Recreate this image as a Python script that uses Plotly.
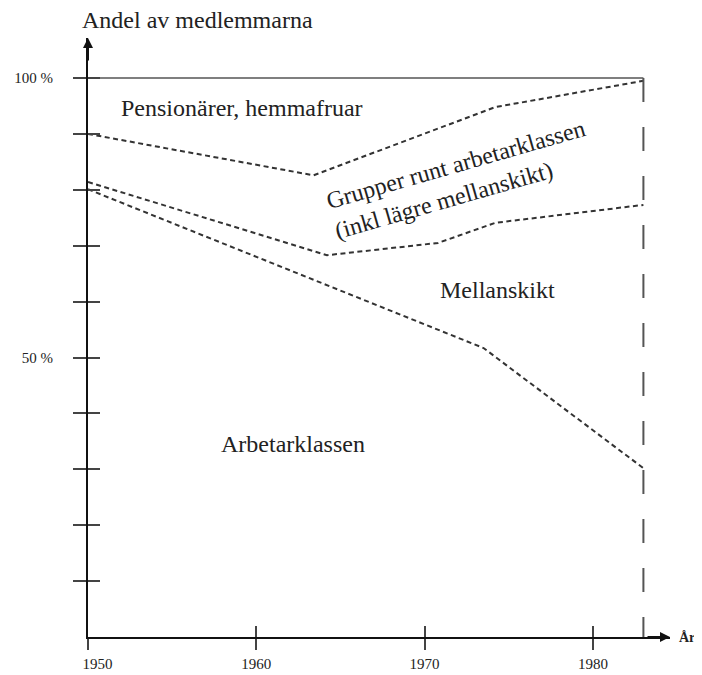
import plotly.graph_objects as go

# ---- data ----
years_pension = [1950, 1963.4, 1974.2, 1983]
share_pension = [90.0, 82.6, 94.8, 99.5]      # lower edge of "Pensionärer, hemmafruar"

years_grupper = [1950, 1964.2, 1970.8, 1974.2, 1983]
share_grupper = [81.4, 68.3, 70.5, 74.1, 77.3]  # lower edge of "Grupper runt arbetarklassen"

years_arbetar = [1950, 1973.5, 1983]
share_arbetar = [80.1, 51.7, 30.2]             # upper edge of "Arbetarklassen"

years_total = [1950, 1983]
share_total = [100, 100]

end_year = 1983
y_tick_vals = [10, 20, 30, 40, 50, 60, 70, 80, 90, 100]
y_tick_text = ["", "", "", "", "50 %", "", "", "", "", "100 %"]
x_tick_vals = [1950, 1960, 1970, 1980]
x_tick_text = ["1950", "1960", "1970", "1980"]

X_MAX = 1984.58
Y_MAX = 107.16
SERIF = "Liberation Serif, Times New Roman, serif"
DASH = "5px,3.5px"
LINE_COL = "#333333"

# the page body has an 8px default margin: compensate in the figure size/margins
PAGE_OFF = 8
PLOT_W, PLOT_H = 582, 599
ML, MT = 88 - PAGE_OFF, 38 - PAGE_OFF
FIG_W, FIG_H = 702 - 2 * PAGE_OFF, 675 - PAGE_OFF
MR = FIG_W - ML - PLOT_W
MB = FIG_H - MT - PLOT_H

# first x label sits a little right of the y axis in the reference
x_tick_labels = ["\u00a0" * 5 + x_tick_text[0]] + x_tick_text[1:]

fig = go.Figure()

for xs, ys in [(years_pension, share_pension),
               (years_grupper, share_grupper),
               (years_arbetar, share_arbetar)]:
    fig.add_trace(go.Scatter(x=xs, y=ys, mode="lines",
                             line=dict(color=LINE_COL, width=2, dash=DASH),
                             hoverinfo="skip", showlegend=False))

# vertical long-dashed line at the end year (drawn top to bottom)
fig.add_trace(go.Scatter(x=[end_year, end_year], y=[share_total[-1], 0], mode="lines",
                         line=dict(color="#555555", width=2, dash="24px,25px"),
                         hoverinfo="skip", showlegend=False))

# 100 % line (on overlay axes carrying the inside ticks)
fig.add_trace(go.Scatter(x=years_total, y=share_total, mode="lines",
                         line=dict(color="#555555", width=1.6),
                         xaxis="x2", yaxis="y2",
                         hoverinfo="skip", showlegend=False))

tick_font = dict(family=SERIF, size=15, color="#222222")
label_font = dict(family=SERIF, size=24, color="#222222")

fig.update_layout(
    width=FIG_W, height=FIG_H,
    margin=dict(l=ML, r=MR, t=MT, b=MB, pad=0),
    paper_bgcolor="white", plot_bgcolor="white",
    showlegend=False,
    xaxis=dict(range=[1950, X_MAX], showgrid=False, zeroline=False, automargin=False,
               showline=True, linecolor="#111111", linewidth=2,
               tickvals=x_tick_vals, ticktext=x_tick_labels,
               ticks="outside", ticklen=11, tickwidth=1.5, tickcolor="#444444",
               tickfont=tick_font, ticklabelstandoff=1),
    yaxis=dict(range=[0, Y_MAX], showgrid=False, zeroline=False, automargin=False,
               showline=True, linecolor="#111111", linewidth=2,
               tickvals=y_tick_vals, ticktext=y_tick_text,
               ticks="outside", ticklen=13, tickwidth=1.5, tickcolor="#444444",
               tickfont=tick_font, ticklabelstandoff=17),
    xaxis2=dict(overlaying="x", matches="x", showgrid=False, zeroline=False,
                automargin=False,
                showline=False, tickvals=x_tick_vals[1:], ticks="inside",
                ticklen=11, tickwidth=1.5, tickcolor="#444444",
                showticklabels=False),
    yaxis2=dict(overlaying="y", matches="y", showgrid=False, zeroline=False,
                automargin=False,
                showline=False, tickvals=y_tick_vals, ticks="inside",
                ticklen=12, tickwidth=1.5, tickcolor="#444444",
                showticklabels=False),
)

annotations = [
    # axis arrows
    dict(x=X_MAX, y=0, xref="x", yref="y", ax=-24, ay=0, text="", showarrow=True,
         arrowhead=2, arrowsize=1, arrowwidth=2, arrowcolor="#111111"),
    dict(x=1950, y=Y_MAX, xref="x", yref="y", ax=0, ay=24, text="", showarrow=True,
         arrowhead=2, arrowsize=1, arrowwidth=2, arrowcolor="#111111"),
    # axis titles
    dict(x=-8 / PLOT_W, y=(637 - 20) / PLOT_H, xref="paper", yref="paper",
         xanchor="left", yanchor="middle", showarrow=False,
         text="Andel av medlemmarna", font=dict(family=SERIF, size=24, color="#222222")),
    dict(x=(678 - 88) / PLOT_W, y=0, xref="paper", yref="paper",
         xanchor="left", yanchor="middle", showarrow=False, borderpad=0,
         text="<b>År</b>", font=dict(family=SERIF, size=14, color="#222222")),
    # region labels
    dict(x=1959.15, y=94.6, xref="x", yref="y", showarrow=False,
         text="Pensionärer, hemmafruar", font=label_font),
    dict(x=1972.1, y=81.9, xref="x", yref="y", showarrow=False, textangle=-16,
         align="left",
         text="Grupper runt arbetarklassen<br>(inkl lägre mellanskikt)", font=label_font),
    dict(x=1974.33, y=62.1, xref="x", yref="y", showarrow=False,
         text="Mellanskikt", font=label_font),
    dict(x=1962.2, y=34.5, xref="x", yref="y", showarrow=False,
         text="Arbetarklassen", font=label_font),
]
fig.update_layout(annotations=annotations)

fig.write_html("out.html")
